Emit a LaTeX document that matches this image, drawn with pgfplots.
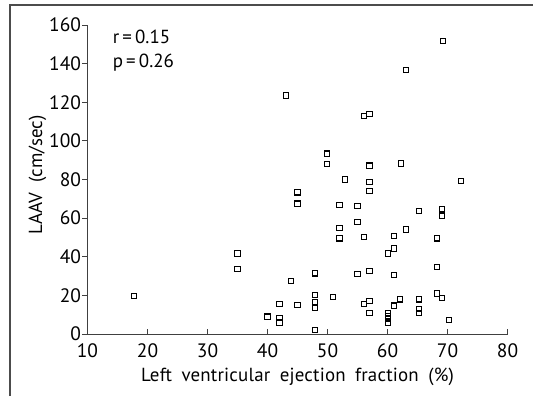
\documentclass[border=0pt]{standalone}
\usepackage{fontspec}
\setmainfont{PT Sans}
\newfontfamily\widefont[WordSpace=1.8, LetterSpace=1.0]{PT Sans}
\usepackage{pgfplots}
\pgfplotsset{compat=1.18}
\begin{document}
\begin{tikzpicture}[x=1bp,y=1bp]
\useasboundingbox (-87.5,-62) rectangle (445.5,334);
\draw[line width=1.6bp, black!70] (-77.5,-62) -- (-77.5,329) -- (445.5,329);
\begin{axis}[
  at={(0,0)}, anchor=south west,
  scale only axis, width=420bp, height=309bp,
  xmin=10, xmax=80, ymin=0, ymax=160,
  xtick={10,20,...,80}, ytick={0,20,...,160},
  axis x line*=bottom, axis y line*=left,
  axis line style={line width=1bp, black!75, -},
  tick style={line width=0.9bp, black!75},
  major tick length=5bp,
  tick align=inside,
  y tick style={xshift=-5bp},
  /pgf/number format/assume math mode=true,
  ticklabel style={font=\fontsize{19.5}{20}\selectfont},
  xticklabel style={yshift=-6bp},
  yticklabel style={xshift=-3bp},
  label style={font=\fontsize{19}{20}\selectfont},
  xlabel={\widefont Left ventricular ejection fraction (\%)},
  ylabel={LAAV\ \ (cm/sec)},
  xlabel style={at={(axis description cs:0.5,0)}, anchor=center, yshift=-43bp},
  ylabel style={at={(axis description cs:0,0.515)}, anchor=center, yshift=50bp},
  clip=false,
]
\addplot[only marks, mark=square, mark size=2.6bp, mark options={line width=1.1bp, black}] table {
x y
17.7 19.8
35.0 41.7
35.0 33.8
40.0 9.0
42.0 15.7
42.0 8.3
42.0 5.9
43.1 123.5
43.9 27.6
45.0 73.3
45.0 67.5
45.0 15.0
47.9 31.4
47.9 20.2
47.9 16.4
47.9 13.5
47.9 2.1
49.9 93.4
49.9 87.9
50.9 19.1
52.0 66.7
52.0 55.0
52.0 49.5
52.9 80.0
55.0 66.4
55.0 58.1
55.0 31.0
56.1 112.8
56.1 50.3
56.1 15.5
57.0 113.8
57.0 87.2
57.0 78.8
57.0 74.1
57.0 32.8
57.0 17.2
57.0 10.7
60.1 41.7
60.1 11.0
60.1 9.3
60.1 7.6
60.1 5.9
61.1 50.7
61.1 44.3
61.1 30.7
61.1 14.7
62.1 17.9
62.2 88.3
63.1 136.6
63.1 54.1
65.2 63.8
65.2 17.9
65.2 12.8
65.2 10.7
68.3 49.5
68.3 34.8
68.3 21.0
69.1 18.8
69.1 64.5
69.1 61.0
69.2 151.7
70.2 7.2
72.3 79.3
};
\node[anchor=west, font=\fontsize{19}{20}\selectfont] at (axis description cs:0.052,0.961) {r\,=\,0.15};
\node[anchor=west, font=\fontsize{19}{20}\selectfont] at (axis description cs:0.052,0.877) {p\,=\,0.26};
\end{axis}
\end{tikzpicture}
\end{document}
